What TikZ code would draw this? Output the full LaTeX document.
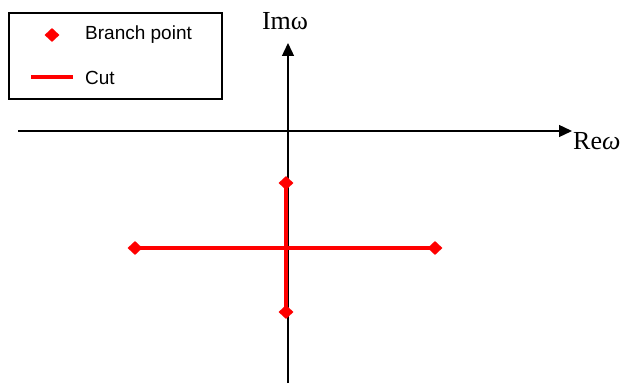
\documentclass[tikz,border=0pt]{standalone}
\usepackage{fontspec}
\setmainfont{Liberation Serif}
\newfontfamily\legendfont{Liberation Sans}
\usetikzlibrary{shapes.geometric,arrows.meta}

\tikzset{
  branchpt/.style={diamond, fill=red, draw=none, inner sep=0pt, minimum width=15pt, minimum height=14pt},
  cutline/.style={red, line width=4pt},
  axisline/.style={black, line width=1.3pt, -{Triangle[length=13pt,width=12pt]}},
  legendtext/.style={anchor=west, inner sep=0pt, font=\legendfont\fontsize{19}{22}\selectfont},
  axislabel/.style={inner sep=1pt, font=\fontsize{26}{30}\selectfont}
}

\begin{document}
\begin{tikzpicture}[x=1pt, y=1pt]
  \useasboundingbox (0,0) rectangle (626,383);

  % Legend
  \draw[black, line width=1.3pt] (9,284) rectangle (222,370);
  \node[branchpt] (legbp) at (52,348) {};
  \node[legendtext] (legbptext) at (85,348) {Branch point};
  \coordinate (legcuta) at (31,306);
  \coordinate (legcutb) at (73,306);
  \draw[cutline] (legcuta) -- (legcutb);
  \node[legendtext] (legcuttext) at (85,305) {Cut};

  % Axes
  \coordinate (reaxisl) at (18,252);
  \coordinate (reaxisr) at (572,252);
  \coordinate (imaxisb) at (288,0);
  \coordinate (imaxist) at (288,340);
  \draw[axisline] (reaxisl) -- (reaxisr);
  \draw[axisline] (imaxisb) -- (imaxist);
  \node[axislabel, anchor=west] (relabel) at (572,242) {Re{\itshape ω}};
  \node[axislabel] (imlabel) at (285,362) {Imω};

  % Branch points and cuts
  \node[branchpt] (bpleft) at (135,135) {};
  \node[branchpt] (bpright) at (435,135) {};
  \node[branchpt] (bptop) at (286,200) {};
  \node[branchpt] (bpbottom) at (286,71) {};
  \draw[cutline] (bpleft.center) -- (bpright.center);
  \draw[cutline] (bptop.center) -- (bpbottom.center);
\end{tikzpicture}
\end{document}
